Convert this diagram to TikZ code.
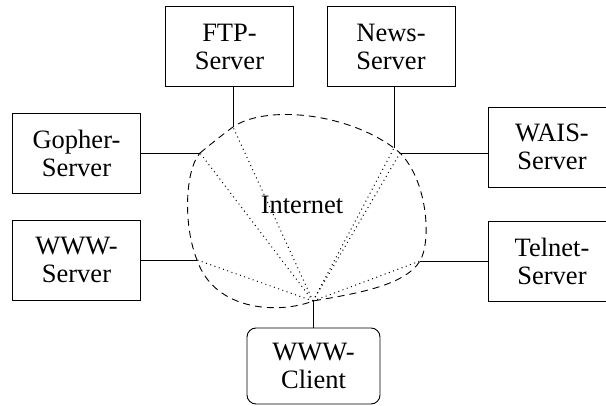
\documentclass[tikz,border=0pt]{standalone}
\usepackage{fontspec}
\setmainfont{Liberation Serif}
\begin{document}
\begin{tikzpicture}[x=1pt,y=-1pt,
  lbl/.style={font=\fontsize{26.5}{28}\selectfont, align=center, inner sep=0pt},
  box/.style={lbl, draw, line width=0.9pt, minimum width=128pt, minimum height=80pt},
  conn/.style={line width=0.9pt},
  blob/.style={line width=0.9pt, dash pattern=on 7pt off 5pt},
  dots/.style={line width=1pt, dash pattern=on 1pt off 3.5pt}
]
\clip (0,0) rectangle (606,406);
\node[box] (ftp) at (229.5,46.5) {FTP-\\Server};
\node[box] (news) at (391,46.5) {News-\\Server};
\node[box] (gopher) at (76.5,153) {Gopher-\\Server};
\node[box] (www) at (76.5,260) {WWW-\\Server};
\node[box] (wais) at (552,147) {WAIS-\\Server};
\node[box] (telnet) at (552,261) {Telnet-\\Server};
\node[box, rounded corners=9pt, minimum width=133pt, minimum height=76pt] (client) at (313.5,366) {WWW-\\Client};
\node[lbl] (inet) at (302,205) {Internet};

\coordinate (G) at (200,153);
\coordinate (F) at (233,127);
\coordinate (N) at (394,148);
\coordinate (W) at (400,153);
\coordinate (T) at (420,261);
\coordinate (C) at (313,301);
\coordinate (S) at (197,260);

\draw[conn] (ftp.south -| F) -- (F);
\draw[conn] (news.south -| N) -- (N);
\draw[conn] (gopher.east |- G) -- (G);
\draw[conn] (www.east |- S) -- (S);
\draw[conn] (wais.west |- W) -- (W);
\draw[conn] (telnet.west |- T) -- (T);
\draw[conn] (client.north -| C) -- (C);

\draw[blob] (G) .. controls (211,144) and (222,135) .. (F)
  .. controls (265,105) and (345,112) .. (N) -- (W)
  .. controls (427,180) and (432,240) .. (T)
  .. controls (405,285) and (360,293) .. (C)
  .. controls (280,314) and (215,312) .. (S)
  .. controls (183,225) and (185,170) .. (G);

\foreach \p in {G,F,N,W,S,T} \draw[dots] (C) -- (\p);
\end{tikzpicture}
\end{document}
